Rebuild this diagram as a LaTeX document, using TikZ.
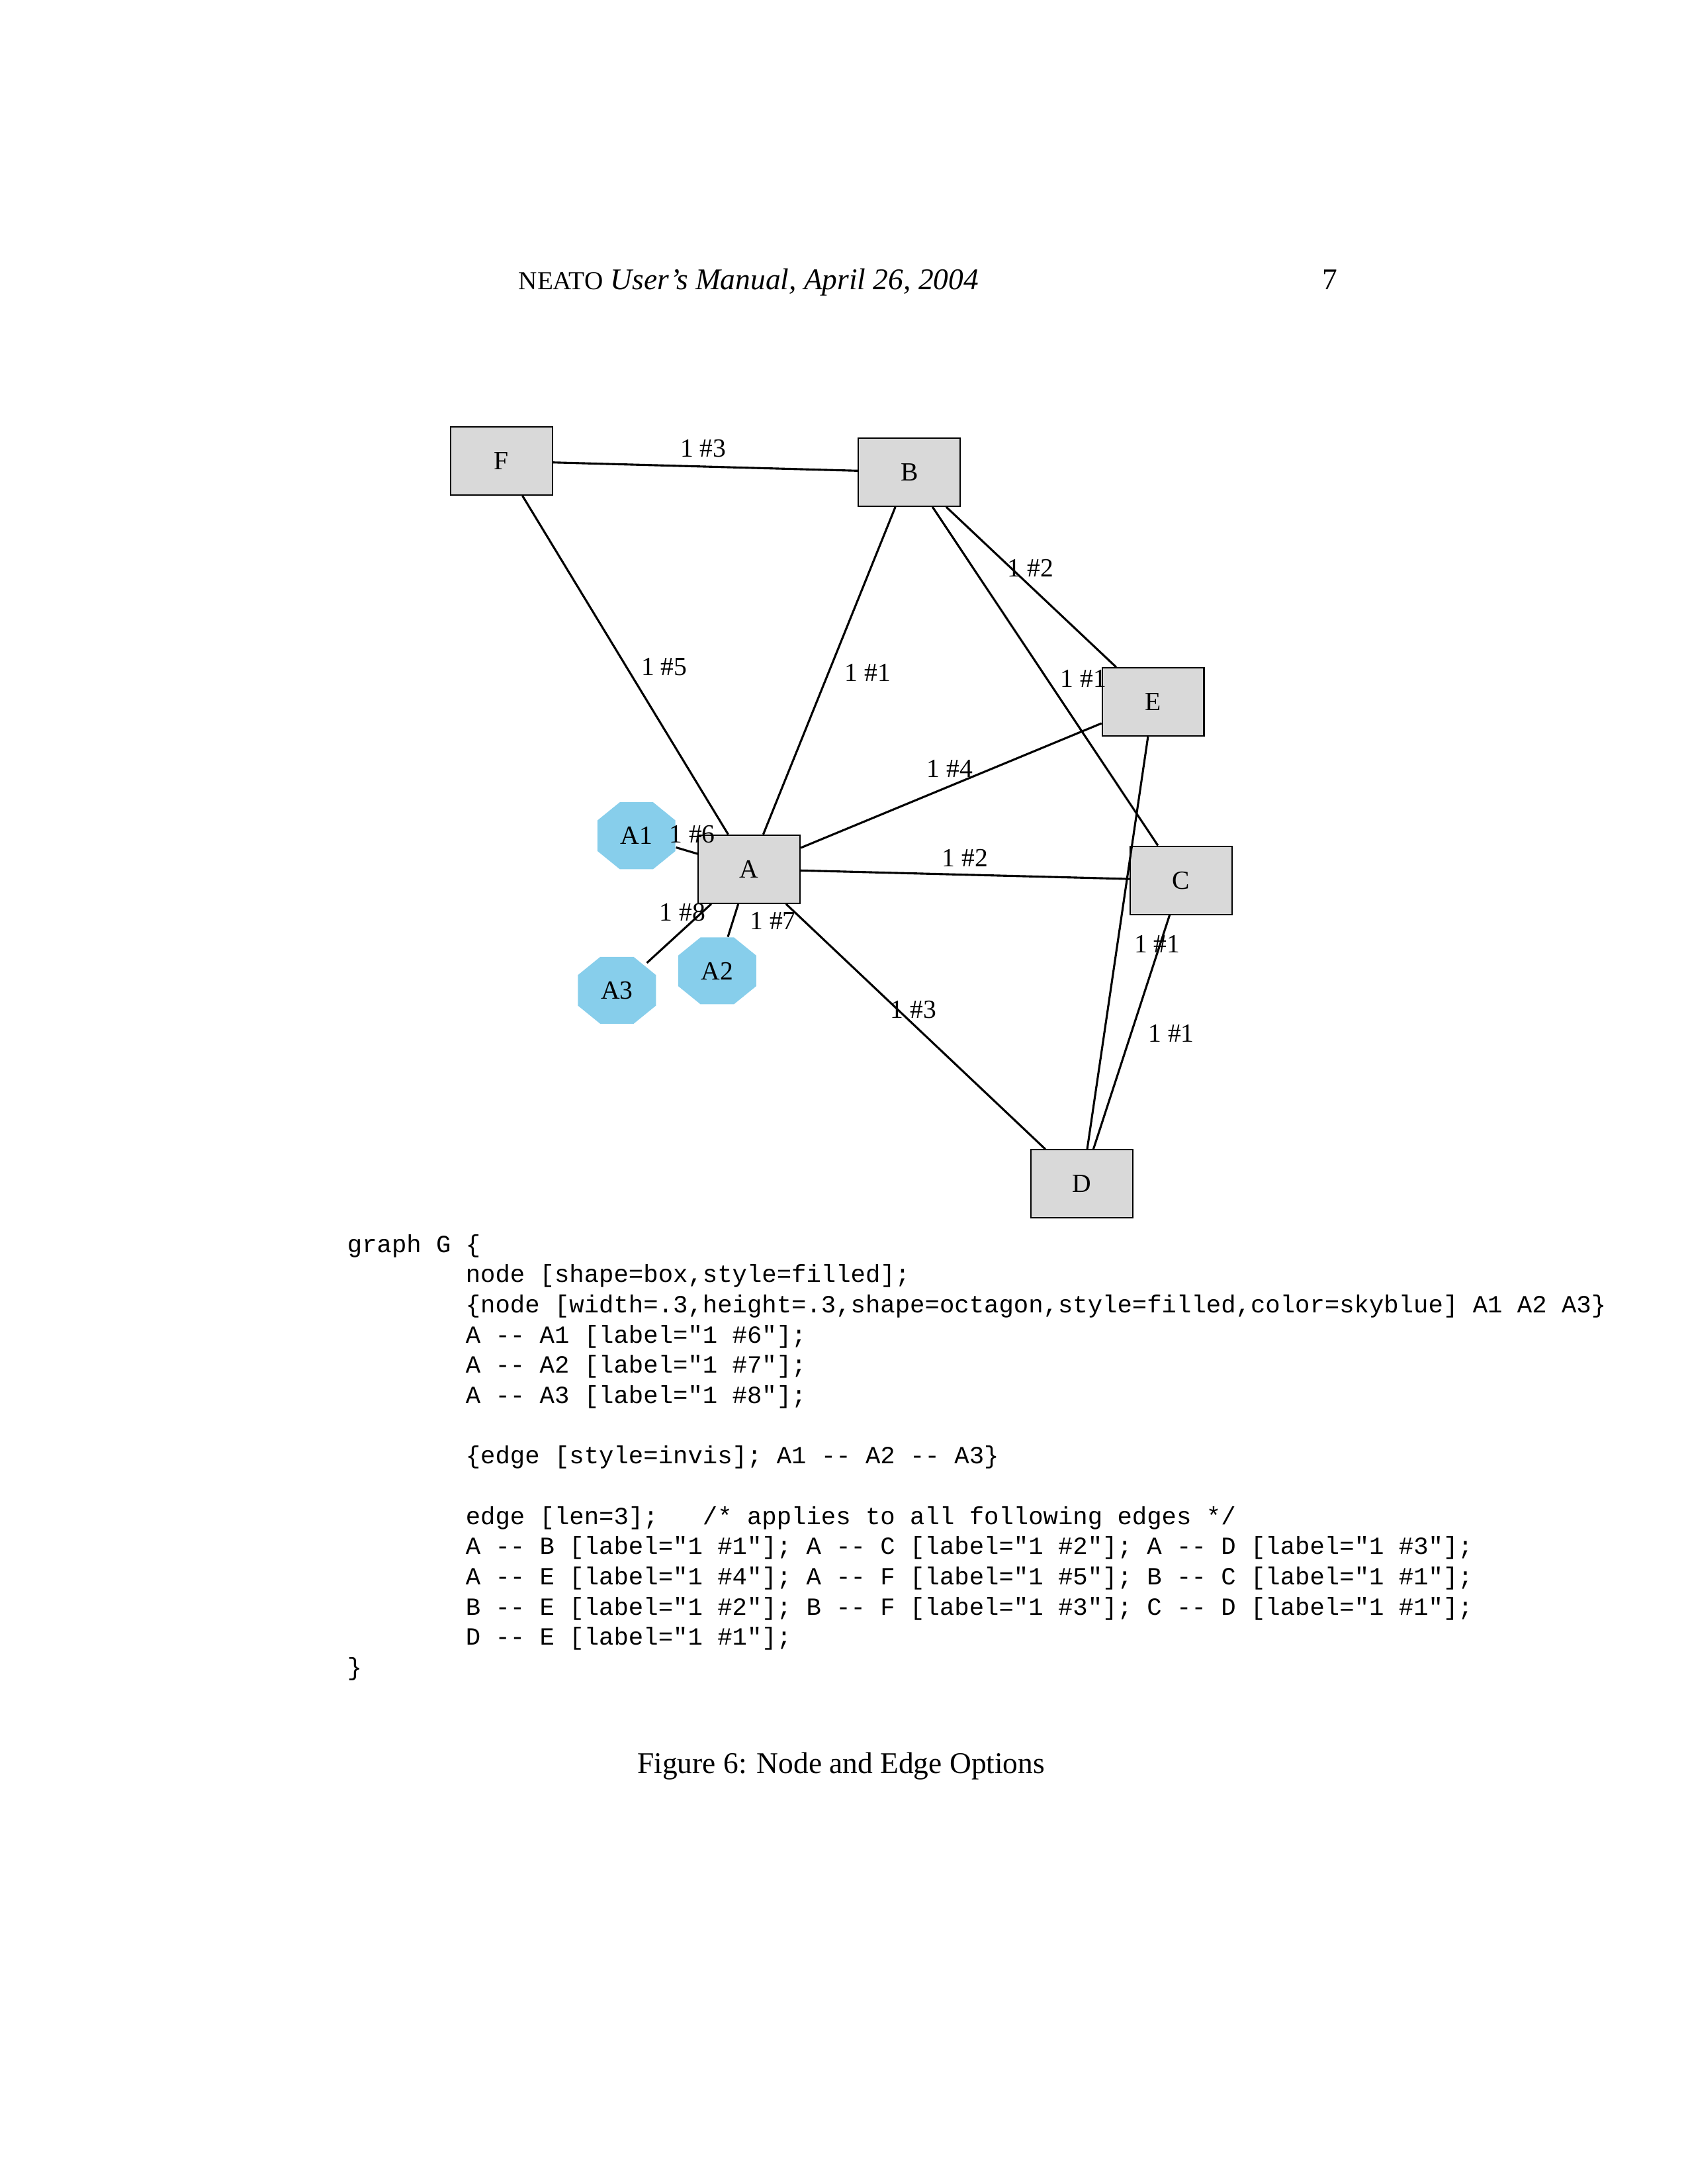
\documentclass[tikz,border=0pt]{standalone}
\usepackage{fontspec}
\setmainfont{Liberation Serif}
\setmonofont{Liberation Mono}
\usetikzlibrary{calc}
\definecolor{boxgray}{HTML}{D9D9D9}
\definecolor{skyblue}{HTML}{87CEEB}
\begin{document}
\begin{tikzpicture}[x=0.50495pt, y=-0.50495pt,
  box/.style={draw=black, line width=0.5pt, fill=boxgray, minimum width=36.9pt, minimum height=24.7pt, inner sep=0pt, font=\fontsize{9.5}{11}\selectfont},
  octo/.style={rectangle, minimum width=28.3pt, minimum height=24.2pt, inner sep=0pt, font=\fontsize{9.5}{11}\selectfont,
    path picture={\fill[skyblue]
      ([shift={(-12,-24)}]path picture bounding box.center) --
      ([shift={(12,-24)}]path picture bounding box.center) --
      ([shift={(28,-11)}]path picture bounding box.center) --
      ([shift={(28,11)}]path picture bounding box.center) --
      ([shift={(12,24)}]path picture bounding box.center) --
      ([shift={(-12,24)}]path picture bounding box.center) --
      ([shift={(-28,11)}]path picture bounding box.center) --
      ([shift={(-28,-11)}]path picture bounding box.center) -- cycle;}},
  conn/.style={line width=0.75pt},
  elab/.style={inner sep=0pt, font=\fontsize{9.5}{11}\selectfont},
  code/.style={anchor=base west, inner sep=0pt, font=\ttfamily\fontsize{8.95}{11}\selectfont}]
\useasboundingbox (0,0) rectangle (1212,1568);

% header
\node[anchor=base west, inner sep=0pt, font=\fontsize{10.9}{13}\selectfont] (hdr) at (372,208) {{\fontsize{9.4}{11}\selectfont NEATO} \textit{User's Manual, April 26, 2004}};
\node[anchor=base west, inner sep=0pt, font=\fontsize{10.9}{13}\selectfont] (pg) at (949,208) {7};

% nodes
\node[box] (F) at (360,331) {F};
\node[box] (B) at (653,339) {B};
\node[box] (E) at (828,504) {E};
\node[box] (C) at (848,632) {C};
\node[box] (A) at (538,624) {A};
\node[box] (D) at (777,850) {D};
\node[octo] (A1) at (457,600) {A1};
\node[octo] (A2) at (515,697) {A2};
\node[octo] (A3) at (443,711) {A3};

% edges
\draw[conn] (F) -- (B);
\draw[conn] (F) -- (A);
\draw[conn] (B) -- (A);
\draw[conn] (B) -- (E);
\draw[conn] (B) -- (C);
\draw[conn] (A) -- (E);
\draw[conn] (A) -- (C);
\draw[conn] (A) -- (D);
\draw[conn] (C) -- (D);
\draw[conn] (E) -- (D);
\draw[conn] (A) -- (A1);
\draw[conn] (A) -- (A2);
\draw[conn, shorten >=-3.5pt] (A) -- (A3);

% edge labels
\node[elab] (lFB) at (505,322) {1 \#3};
\node[elab] (lFA) at (477,479) {1 \#5};
\node[elab] (lBA) at (623,483) {1 \#1};
\node[elab] (lBE) at (740,408) {1 \#2};
\node[elab] (lBC) at (778,487) {1 \#1};
\node[elab] (lAE) at (682,552) {1 \#4};
\node[elab] (lAC) at (693,616) {1 \#2};
\node[elab] (lAD) at (656,725) {1 \#3};
\node[elab] (lCD) at (841,742) {1 \#1};
\node[elab] (lDE) at (831,678) {1 \#1};
\node[elab] (lA1) at (497,599) {1 \#6};
\node[elab] (lA2) at (555,661) {1 \#7};
\node[elab] (lA3) at (490,655) {1 \#8};

% code
\node[code] (c1) at (249,899) {graph G \{};
\node[code] (c2) at (334,920.7) {node [shape=box,style=filled];};
\node[code] (c3) at (334,942.4) {\{node [width=.3,height=.3,shape=octagon,style=filled,color=skyblue] A1 A2 A3\}};
\node[code] (c4) at (334,964.1) {A -{}- A1 [label="1 \#6"];};
\node[code] (c5) at (334,985.8) {A -{}- A2 [label="1 \#7"];};
\node[code] (c6) at (334,1007.5) {A -{}- A3 [label="1 \#8"];};
\node[code] (c8) at (334,1050.9) {\{edge [style=invis]; A1 -{}- A2 -{}- A3\}};
\node[code] (c10) at (334,1094.3) {edge [len=3];\ \ \ /* applies to all following edges */};
\node[code] (c11) at (334,1116) {A -{}- B [label="1 \#1"]; A -{}- C [label="1 \#2"]; A -{}- D [label="1 \#3"];};
\node[code] (c12) at (334,1137.7) {A -{}- E [label="1 \#4"]; A -{}- F [label="1 \#5"]; B -{}- C [label="1 \#1"];};
\node[code] (c13) at (334,1159.4) {B -{}- E [label="1 \#2"]; B -{}- F [label="1 \#3"]; C -{}- D [label="1 \#1"];};
\node[code] (c14) at (334,1181.1) {D -{}- E [label="1 \#1"];};
\node[code] (c15) at (249,1202.8) {\}};

% caption
\node[anchor=base, inner sep=0pt, font=\fontsize{10.9}{13}\selectfont] (cap) at (604,1273) {Figure 6: Node and Edge Options};
\end{tikzpicture}
\end{document}
